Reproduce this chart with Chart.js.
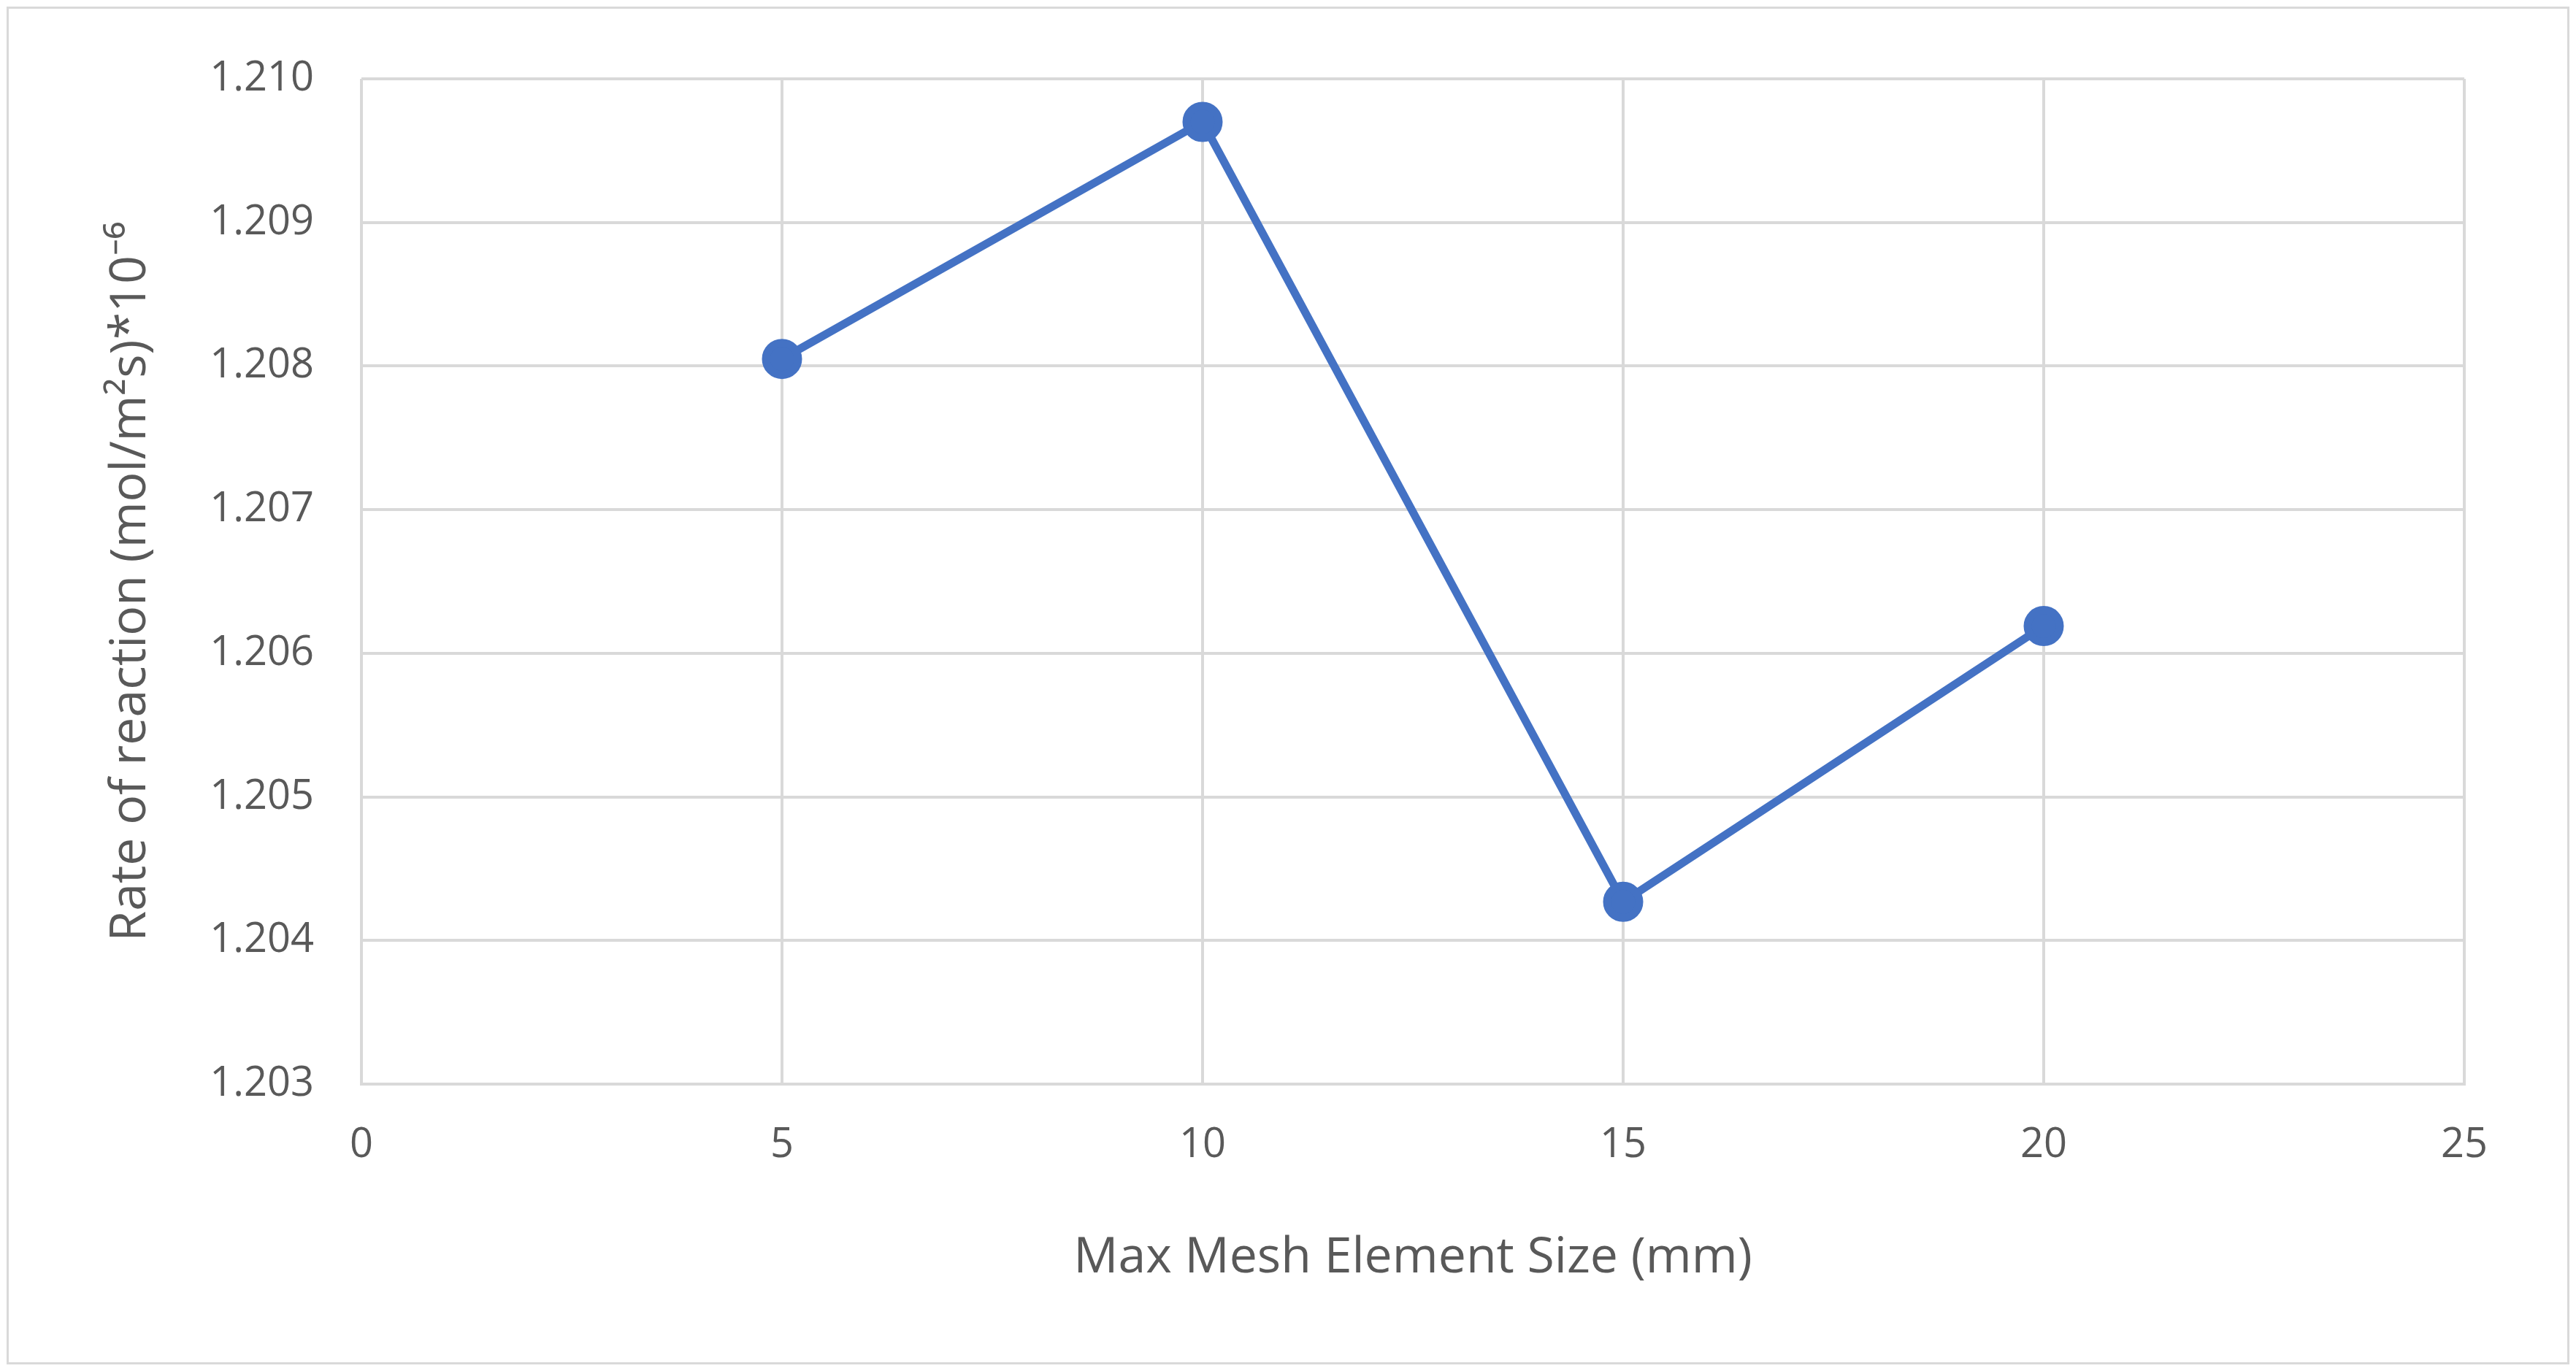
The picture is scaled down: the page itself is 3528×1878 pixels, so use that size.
<!DOCTYPE html>
<html><head><meta charset="utf-8">
<script src="https://cdn.jsdelivr.net/npm/chart.js@4"></script>
<style>
html,body{margin:0;padding:0;background:#fff;}
#wrap{position:relative;width:3528px;height:1878px;}
#frame{position:absolute;left:9px;top:9px;right:9px;bottom:9px;border:3px solid #d9d9d9;pointer-events:none;}
</style></head>
<body><div id="wrap"><canvas id="c" width="3528" height="1878"></canvas><div id="frame"></div></div>
<script>
const meshSizes = [5, 10, 15, 20];
const rates = [1.20805, 1.20970, 1.20427, 1.20619];
const xTitle = 'Max Mesh Element Size (mm)';
const yTitle = 'Rate of reaction (mol/m²s)*10⁻⁶';
const font = '"Open Sans", "Liberation Sans", sans-serif';
const grey = '#595959';
new Chart(document.getElementById('c'), {
  type: 'line',
  data: { datasets: [{
    data: meshSizes.map((x,i)=>({x, y: rates[i]})),
    borderColor: '#4472C4', backgroundColor: '#4472C4',
    borderWidth: 11, pointRadius: 22, pointHoverRadius: 22, tension: 0
  }]},
  options: {
    responsive: false, animation: false, devicePixelRatio: 1,
    layout: { padding: { top: 108, right: 153, left: 135, bottom: 110 } },
    plugins: { legend: { display: false }, tooltip: { enabled: false } },
    scales: {
      x: { type: 'linear', min: 0, max: 25,
        ticks: { stepSize: 5, color: grey, font: { family: font, size: 56 }, padding: 50 },
        grid: { color: '#d9d9d9', lineWidth: 4, drawTicks: false },
        border: { color: '#d9d9d9', width: 4 },
        title: { display: true, text: xTitle, color: grey, font: { family: font, size: 68 }, padding: { top: 30 } }
      },
      y: { min: 1.203, max: 1.210,
        ticks: { stepSize: 0.001, color: grey, font: { family: font, size: 56 }, padding: 65,
          callback: v => v.toFixed(3) },
        grid: { color: '#d9d9d9', lineWidth: 4, drawTicks: false },
        border: { display: false },
        title: { display: true, text: yTitle, color: grey, font: { family: font, size: 68 }, padding: { bottom: 20 } },
        afterFit: s => { s.width = 360; }
      }
    }
  }
});
</script></body></html>
